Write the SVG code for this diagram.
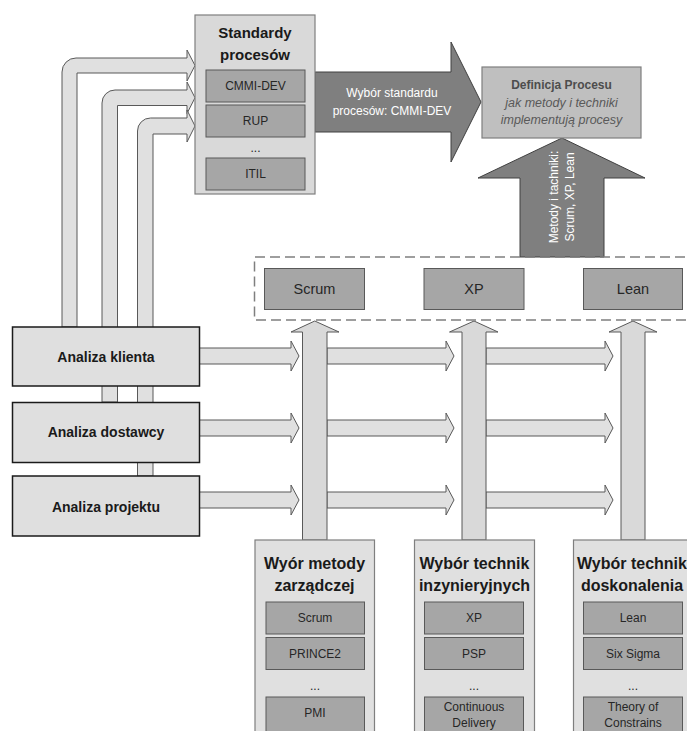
<svg xmlns="http://www.w3.org/2000/svg" width="687" height="731" viewBox="0 0 687 731">
<style>
text{font-family:"Liberation Sans",Arial,sans-serif;fill:#1a1a1a}
.lg{fill:#e0e0e0;stroke:#595959;stroke-width:1}
.vs{fill:#d9d9d9;stroke:#595959;stroke-width:1}
.an{fill:#dfdfdf;stroke:#1a1a1a;stroke-width:1.5}
.col{fill:#e0e0e0;stroke:#7f7f7f;stroke-width:1.2}
.it{fill:#a6a6a6;stroke:#595959;stroke-width:1}
.dk{fill:#7f7f7f;stroke:#404040;stroke-width:1}
.b14{font-size:14px;font-weight:bold;text-anchor:middle}
.b15{font-size:15px;font-weight:bold;text-anchor:middle}
.b16{font-size:16px;font-weight:bold;text-anchor:middle}
.n12{font-size:12px;text-anchor:middle;fill:#262626}
.n14{font-size:14.5px;text-anchor:middle;fill:#262626}
.w12{font-size:12px;text-anchor:middle;fill:#ffffff}
</style>
<g id="connectors">
  <path class="lg" d="M62,327 V72 A14,14 0 0 1 76,58 H187 V50 L195,65.5 L187,81 V73 H77 V327 Z"/>
  <path class="lg" d="M102,402 V103 A13,13 0 0 1 115,90 H187 V82 L195,97.75 L187,113.5 V105.5 H117.5 V402 Z"/>
  <path class="lg" d="M137.5,476 V131 A13,13 0 0 1 150.5,118 H187 V110 L195,126 L187,142 V134 H153 V476 Z"/>
  <path class="lg" d="M199,348 H291 V341 L299,356 L291,371 V364 H199 Z"/>
  <path class="lg" d="M327,348 H446 V341 L454,356 L446,371 V364 H327 Z"/>
  <path class="lg" d="M486,348 H605 V341 L613,356 L605,371 V364 H486 Z"/>
  <path class="lg" d="M199,420 H291 V413 L299,428 L291,443 V436 H199 Z"/>
  <path class="lg" d="M327,420 H446 V413 L454,428 L446,443 V436 H327 Z"/>
  <path class="lg" d="M486,420 H605 V413 L613,428 L605,443 V436 H486 Z"/>
  <path class="lg" d="M199,492 H291 V485 L299,500 L291,515 V508 H199 Z"/>
  <path class="lg" d="M327,492 H446 V485 L454,500 L446,515 V508 H327 Z"/>
  <path class="lg" d="M486,492 H605 V485 L613,500 L605,515 V508 H486 Z"/>
  <path class="vs" d="M302.5,540 V332 H291 L314.75,321 L339,332 H327 V540 Z"/>
  <path class="vs" d="M462,540 V332 H449.5 L474,321 L498,332 H486 V540 Z"/>
  <path class="vs" d="M621,540 V332 H609 L633,321 L657,332 H645 V540 Z"/>
  <g id="arrow-standard">
    <path class="dk" d="M315,72 H451 V42 L481,102 L451,162 V132 H315 Z"/>
    <text class="w12" x="392" y="97">Wybór standardu</text>
    <text class="w12" x="392" y="115">procesów: CMMI-DEV</text>
  </g>
  <g id="arrow-methods">
    <path class="dk" d="M520,257 V178 H478 L562,138 L645,178 H604 V257 Z"/>
    <text class="w12" transform="translate(558,197) rotate(-90)">Metody i tachniki:</text>
    <text class="w12" transform="translate(574,197) rotate(-90)">Scrum, XP, Lean</text>
  </g>
  <line x1="314" y1="634" x2="314" y2="637" stroke="#595959" stroke-width="1"/>
  <line x1="474" y1="693" x2="474" y2="697" stroke="#595959" stroke-width="1"/>
</g>
<g id="standardy">
  <rect x="195" y="15" width="120" height="179" fill="#d9d9d9" stroke="#7f7f7f" stroke-width="1.2"/>
  <text class="b15" x="255" y="38">Standardy</text>
  <text class="b15" x="255" y="60">procesów</text>
  <rect class="it" x="206" y="70" width="99" height="32"/>
  <text class="n12" x="255.5" y="90">CMMI-DEV</text>
  <rect class="it" x="206" y="105" width="99" height="32"/>
  <text class="n12" x="255.5" y="125">RUP</text>
  <text class="n12" x="255.5" y="152">...</text>
  <rect class="it" x="206" y="158" width="99" height="32"/>
  <text class="n12" x="255.5" y="178">ITIL</text>
</g>
<g id="definicja">
  <rect x="482" y="67" width="159" height="71" fill="#bfbfbf" stroke="#7f7f7f" stroke-width="1.2"/>
  <text x="561.5" y="88.5" style="font-size:12px;font-weight:bold;text-anchor:middle;fill:#4d4d4d">Definicja Procesu</text>
  <text x="561.5" y="106.5" style="font-size:12.5px;font-style:italic;text-anchor:middle;fill:#595959">jak metody i techniki</text>
  <text x="561.5" y="124" style="font-size:12.5px;font-style:italic;text-anchor:middle;fill:#595959">implementują procesy</text>
</g>
<g id="metody-grupa">
  <path d="M700,257 H254.5 V320 H700" fill="none" stroke="#7f7f7f" stroke-width="1.5" stroke-dasharray="10 5"/>
</g>
<g id="scrum-top">
  <rect class="it" x="264.5" y="268.5" width="100" height="41"/>
  <text class="n14" x="314.5" y="294">Scrum</text>
</g>
<g id="xp-top">
  <rect class="it" x="424" y="268.5" width="100" height="41"/>
  <text class="n14" x="474" y="294">XP</text>
</g>
<g id="lean-top">
  <rect class="it" x="583.5" y="268.5" width="99" height="41"/>
  <text class="n14" x="633" y="294">Lean</text>
</g>
<g id="analiza-klienta">
  <rect class="an" x="12.5" y="327" width="187" height="59"/>
  <text class="b14" x="106" y="362">Analiza klienta</text>
</g>
<g id="analiza-dostawcy">
  <rect class="an" x="12.5" y="402.5" width="187" height="60"/>
  <text class="b14" x="106" y="437">Analiza dostawcy</text>
</g>
<g id="analiza-projektu">
  <rect class="an" x="12.5" y="476" width="187" height="60"/>
  <text class="b14" x="106" y="512">Analiza projektu</text>
</g>
<g id="wybor-metody">
  <rect class="col" x="255" y="540" width="119.5" height="200"/>
  <text class="b16" x="314.5" y="569">Wyór metody</text>
  <text class="b16" x="314.5" y="591">zarządczej</text>
  <rect class="it" x="266" y="602" width="98.5" height="32"/>
  <text class="n12" x="315" y="622">Scrum</text>
  <rect class="it" x="266" y="637.5" width="98.5" height="32"/>
  <text class="n12" x="315" y="657.5">PRINCE2</text>
  <text class="n12" x="315" y="690">...</text>
  <rect class="it" x="266" y="697" width="98.5" height="40"/>
  <text class="n12" x="315" y="717">PMI</text>
</g>
<g id="wybor-inzynieryjnych">
  <rect class="col" x="414.5" y="540" width="120" height="200"/>
  <text class="b16" x="474.5" y="569">Wybór technik</text>
  <text class="b16" x="474.5" y="591">inzynieryjnych</text>
  <rect class="it" x="424.5" y="602" width="99" height="32"/>
  <text class="n12" x="474" y="622">XP</text>
  <rect class="it" x="424.5" y="637.5" width="99" height="32"/>
  <text class="n12" x="474" y="657.5">PSP</text>
  <text class="n12" x="474" y="690">...</text>
  <rect class="it" x="424.5" y="697" width="99" height="40"/>
  <text class="n12" x="474" y="711">Continuous</text>
  <text class="n12" x="474" y="727">Delivery</text>
</g>
<g id="wybor-doskonalenia">
  <rect class="col" x="573.5" y="540" width="120" height="200"/>
  <text class="b16" x="632" y="569">Wybór technik</text>
  <text class="b16" x="632" y="591">doskonalenia</text>
  <rect class="it" x="583.5" y="602" width="99" height="32"/>
  <text class="n12" x="633" y="622">Lean</text>
  <rect class="it" x="583.5" y="637.5" width="99" height="32"/>
  <text class="n12" x="633" y="657.5">Six Sigma</text>
  <text class="n12" x="633" y="690">...</text>
  <rect class="it" x="583.5" y="697" width="99" height="40"/>
  <text class="n12" x="633" y="711">Theory of</text>
  <text class="n12" x="633" y="727">Constrains</text>
</g>
</svg>
